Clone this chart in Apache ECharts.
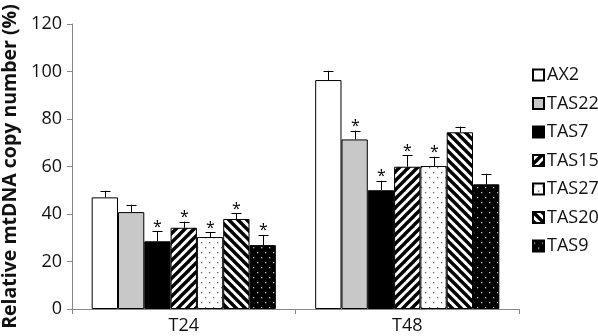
<!DOCTYPE html>
<html>
<head>
<meta charset="utf-8">
<script src="https://cdn.jsdelivr.net/npm/echarts@6/dist/echarts.min.js"></script>
<style>
html,body{margin:0;padding:0;background:#fff;}
#chart{width:598px;height:336px;}
</style>
</head>
<body>
<div id="chart"></div>
<script>
// ---- data ----
const categories = ['T24', 'T48'];
const seriesNames = ['AX2', 'TAS22', 'TAS7', 'TAS15', 'TAS27', 'TAS20', 'TAS9'];
const ax2   = [47.0, 96.4];
const tas22 = [40.8, 71.4];
const tas7  = [28.5, 50.0];
const tas15 = [34.2, 59.9];
const tas27 = [30.3, 60.2];
const tas20 = [37.9, 74.4];
const tas9  = [26.9, 52.5];
const ax2Err   = [2.8, 3.9];
const tas22Err = [3.1, 3.7];
const tas7Err  = [4.3, 4.0];
const tas15Err = [2.6, 4.9];
const tas27Err = [2.1, 3.9];
const tas20Err = [2.4, 2.4];
const tas9Err  = [4.3, 4.5];
const ax2Sig   = [0, 0];
const tas22Sig = [0, 1];
const tas7Sig  = [1, 1];
const tas15Sig = [1, 1];
const tas27Sig = [1, 1];
const tas20Sig = [1, 0];
const tas9Sig  = [1, 0];
const yTicks = { min: 0, max: 120, interval: 20 };

const values = [ax2, tas22, tas7, tas15, tas27, tas20, tas9];
const errors = [ax2Err, tas22Err, tas7Err, tas15Err, tas27Err, tas20Err, tas9Err];
const sigs = [ax2Sig, tas22Sig, tas7Sig, tas15Sig, tas27Sig, tas20Sig, tas9Sig];

// ---- patterns ----
function makeCanvas(w, h, draw) {
  const c = document.createElement('canvas');
  c.width = w; c.height = h;
  draw(c.getContext('2d'), w, h);
  return c;
}
function stripes(dir) {
  return makeCanvas(9, 9, (ctx, s) => {
    ctx.fillStyle = '#fff'; ctx.fillRect(0, 0, s, s);
    ctx.strokeStyle = '#000'; ctx.lineWidth = 3.4; ctx.lineCap = 'square';
    for (let k = -s; k <= s; k += s) {
      ctx.beginPath();
      if (dir === '/') { ctx.moveTo(k, s); ctx.lineTo(k + s, 0); }
      else { ctx.moveTo(k, 0); ctx.lineTo(k + s, s); }
      ctx.stroke();
    }
  });
}
function dots(bg, fg) {
  return makeCanvas(8, 10, (ctx, w, h) => {
    ctx.fillStyle = bg; ctx.fillRect(0, 0, w, h);
    ctx.fillStyle = fg;
    ctx.fillRect(1, 2, 1.3, 1.3);
    ctx.fillRect(5, 7, 1.3, 1.3);
  });
}
const fills = [
  '#ffffff',
  '#c8c8c8',
  '#000000',
  { image: stripes('/'), repeat: 'repeat' },
  { image: dots('#ffffff', '#666666'), repeat: 'repeat' },
  { image: stripes('\\'), repeat: 'repeat' },
  { image: dots('#000000', '#bbbbbb'), repeat: 'repeat' }
];

const FONT = '"Open Sans", "DejaVu Sans", sans-serif';
const barFrac = 0.1177;

const series = seriesNames.map((name, i) => ({
  name,
  type: 'bar',
  data: values[i],
  barWidth: (barFrac * 100) + '%',
  barGap: '0%',
  itemStyle: { color: fills[i], borderColor: '#000', borderWidth: 1 },
  emphasis: { disabled: true },
  animation: false
}));

const errData = [];
seriesNames.forEach((n, i) => {
  categories.forEach((c, j) => {
    errData.push([j, i, values[i][j], errors[i][j], sigs[i][j]]);
  });
});

series.push({
  type: 'custom',
  name: 'err',
  data: errData,
  encode: { x: 0, y: 2 },
  z: 10,
  animation: false,
  renderItem: function (params, api) {
    const cat = api.value(0), si = api.value(1), v = api.value(2), e = api.value(3), sg = api.value(4);
    const catW = api.size([1, 0])[0];
    const bw = catW * barFrac;
    const off = (si - (seriesNames.length - 1) / 2) * bw;
    const base = api.coord([cat, v]);
    const top = api.coord([cat, v + e]);
    const x = Math.round(base[0] + off) + 0.5;
    const children = [
      { type: 'line', shape: { x1: x, y1: base[1], x2: x, y2: top[1] }, style: { stroke: '#000', lineWidth: 1 } },
      { type: 'line', shape: { x1: x - 5, y1: Math.round(top[1]) + 0.5, x2: x + 5, y2: Math.round(top[1]) + 0.5 }, style: { stroke: '#000', lineWidth: 1 } }
    ];
    if (sg) {
      children.push({
        type: 'text',
        style: { text: '*', x: x, y: top[1] + 4, align: 'center', verticalAlign: 'bottom', fill: '#000', font: '16px ' + FONT }
      });
    }
    return { type: 'group', children };
  }
});

const chart = echarts.init(document.getElementById('chart'), null, { renderer: 'canvas' });
chart.setOption({
  animation: false,
  backgroundColor: '#fff',
  grid: { left: 72, right: 79, top: 24, bottom: 27, containLabel: false, outerBoundsMode: 'none' },
  legend: {
    data: seriesNames,
    orient: 'vertical',
    left: 527,
    top: 61,
    itemWidth: 11,
    itemHeight: 11,
    itemGap: 10.5,
    icon: 'rect',
    textStyle: { fontSize: 18, fontFamily: FONT, color: '#111', padding: [0, 0, 0, -2] }
  },
  xAxis: {
    type: 'category',
    data: categories,
    axisLine: { lineStyle: { color: '#888' } },
    axisTick: { show: true, length: 5, lineStyle: { color: '#888' } },
    axisLabel: { fontSize: 18, fontFamily: FONT, color: '#111', margin: 8 },
    splitLine: { show: false }
  },
  yAxis: {
    type: 'value',
    min: yTicks.min, max: yTicks.max, interval: yTicks.interval,
    name: 'Relative mtDNA copy number (%)',
    nameLocation: 'middle',
    nameGap: 49,
    nameTextStyle: { fontSize: 19.5, fontWeight: 'bold', fontFamily: FONT, color: '#111' },
    axisLine: { show: true, lineStyle: { color: '#888' } },
    axisTick: { show: true, length: 5, lineStyle: { color: '#888' } },
    axisLabel: { fontSize: 18, fontFamily: FONT, color: '#111', margin: 10 },
    splitLine: { show: false }
  },
  series
});
</script>
</body>
</html>
